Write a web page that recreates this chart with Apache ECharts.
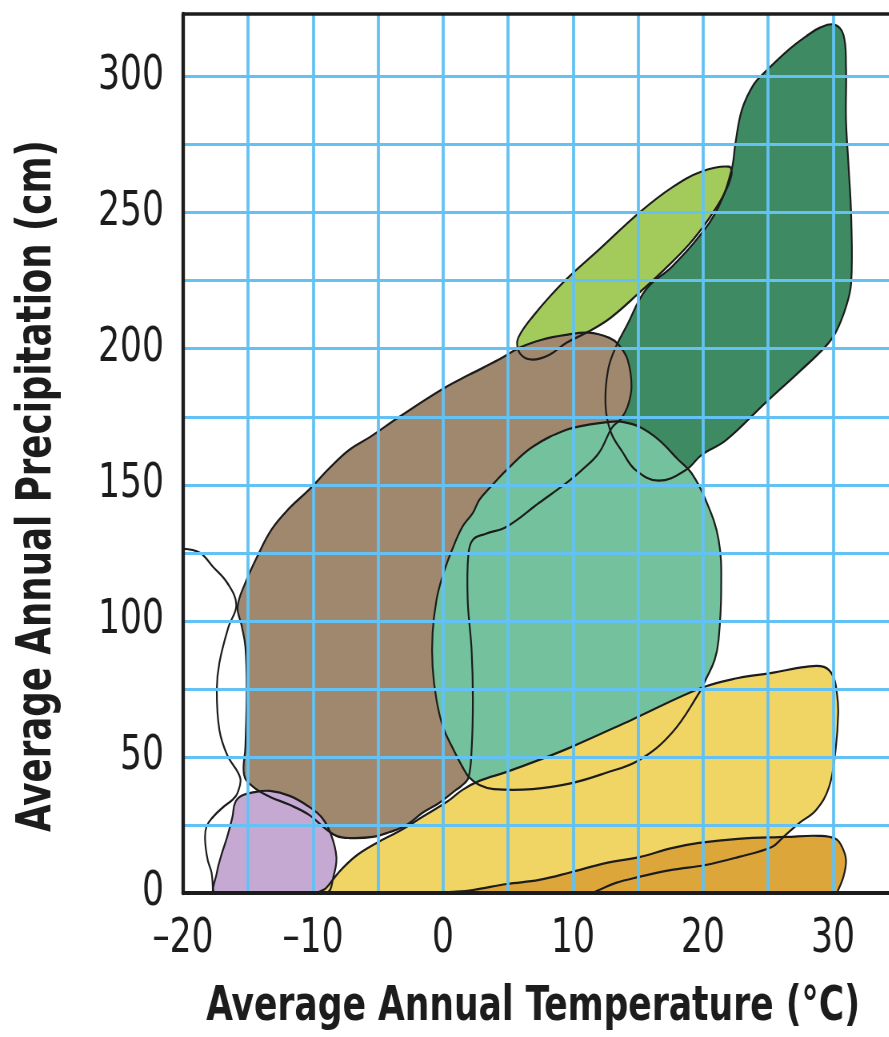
<!DOCTYPE html>
<html><head><meta charset="utf-8">
<script src="https://cdn.jsdelivr.net/npm/echarts@6/dist/echarts.min.js"></script>
<style>
html,body{margin:0;padding:0;background:#fff;overflow:hidden;width:889px;height:1037px}
#chart{width:1112px;height:1037px;transform:scaleX(0.8);transform-origin:0 0}
</style>
</head><body><div id="chart"></div>
<script>
// ---- tick labels ----
const xTickLabels = [-20, -10, 0, 10, 20, 30];
const yTickLabels = [0, 50, 100, 150, 200, 250, 300];
const xTitle = 'Average Annual Temperature (°C)';
const yTitle = 'Average Annual Precipitation (cm)';

// ---- biome outlines: [temperature °C, precipitation cm] ----
const tundraOutline = [[-20.0,126.5],[-18.7,125.0],[-17.7,119.9],[-16.6,114.0],[-15.9,105.9],[-16.5,97.8],[-17.2,84.6],[-17.4,74.6],[-17.2,59.9],[-16.6,50.7],[-15.6,42.3],[-15.8,36.8],[-16.2,34.2],[-16.9,31.6],[-17.7,27.9],[-18.2,24.3],[-18.3,19.5],[-18.1,12.1],[-17.8,7.4],[-17.7,0]];
const purpleBiome = [[-17.5,0],[-17.4,7.4],[-17.0,14.7],[-16.6,20.6],[-16.2,27.9],[-16.0,33.1],[-15.5,35.7],[-14.5,37.1],[-13.3,37.5],[-11.8,35.7],[-10.4,32.0],[-9.3,27.6],[-8.6,21.3],[-8.2,13.2],[-8.4,6.6],[-9.0,0]];
const brownBiome = [[4.3,196.0],[5.9,200.4],[7.6,203.3],[9.5,205.1],[11.2,205.9],[12.8,204.0],[13.5,201.5],[14.2,196.0],[14.5,186.0],[14.2,178.7],[13.7,174.3],[13.0,171.0],[12.0,161.8],[10.7,155.5],[9.5,150.7],[7.4,143.4],[4.9,134.6],[3.3,132.0],[2.3,129.8],[1.95,124.3],[1.9,107.7],[2.2,89.3],[2.3,71.0],[2.2,52.6],[1.95,42.3],[1.4,39.3],[1.0,37.9],[-0.3,33.1],[-1.6,29.4],[-2.8,25.0],[-4.1,22.4],[-5.4,20.6],[-7.2,20.2],[-8.2,21.0],[-9.1,23.9],[-10.3,28.7],[-11.8,32.4],[-13.3,35.3],[-14.6,39.0],[-15.3,43.4],[-15.2,53.7],[-15.1,74.6],[-15.2,90.4],[-15.5,98.5],[-15.8,105.1],[-15.2,114.0],[-14.3,123.5],[-13.2,133.5],[-11.8,141.5],[-10.3,148.2],[-8.7,156.3],[-7.2,162.9],[-5.6,167.6],[-3.35,175.0],[0.0,185.3],[2.0,190.4]];
const lightGreenBiome = [[5.7,202.2],[6.0,205.9],[6.9,211.8],[8.2,219.1],[9.7,226.5],[12.0,236.4],[15.1,250.0],[17.6,259.2],[19.9,265.1],[22.0,266.9],[22.2,264.0],[21.6,256.6],[20.4,247.4],[18.9,238.2],[17.0,229.0],[15.1,220.6],[12.9,211.4],[11.2,206.3],[9.5,202.2],[8.2,197.8],[6.9,196.0],[6.0,197.8]];
const darkGreenBiome = [[30.1,319.1],[30.8,315.4],[31.0,303.7],[31.0,284.2],[31.2,266.9],[31.4,248.5],[31.4,224.3],[31.0,215.4],[30.2,205.9],[29.4,200.7],[27.4,191.5],[24.8,180.1],[21.8,166.5],[19.9,161.0],[18.7,155.5],[16.6,151.5],[14.8,155.5],[13.8,162.1],[12.9,169.5],[12.5,179.4],[12.7,192.3],[13.3,200.7],[14.1,208.1],[15.6,221.7],[17.6,230.1],[19.7,241.2],[21.2,252.2],[22.2,265.8],[22.5,275.7],[23.0,287.9],[23.9,297.1],[24.8,301.8],[26.6,309.9],[27.9,314.7],[29.0,318.0]];
const mintBiome = [[13.0,173.2],[11.2,172.1],[9.5,170.2],[6.9,164.0],[4.9,155.5],[3.6,148.9],[2.8,144.5],[2.3,139.7],[1.5,134.6],[0.7,126.1],[-0.05,116.2],[-0.5,107.7],[-0.8,95.6],[-0.8,83.1],[-0.5,71.0],[0.0,61.0],[0.7,53.7],[1.5,46.3],[2.0,42.6],[2.8,39.7],[3.9,38.2],[6.9,38.2],[9.9,40.4],[12.5,44.1],[15.1,48.9],[17.6,58.8],[19.7,73.5],[20.2,78.3],[20.9,85.7],[21.2,93.0],[21.4,111.4],[21.2,129.8],[20.2,144.5],[19.1,154.4],[18.1,159.2],[16.6,166.5],[15.1,171.3],[13.7,173.2]];
const yellowBiome = [[-9.6,0],[-9.0,1.8],[-8.0,7.7],[-6.7,13.6],[-5.1,18.4],[-3.35,22.8],[-1.6,27.9],[0.3,33.5],[1.5,37.9],[2.8,41.2],[4.9,44.5],[7.4,48.9],[9.9,53.7],[14.5,63.6],[19.9,75.4],[22.7,79.0],[25.3,80.9],[27.9,83.1],[29.3,83.1],[30.0,79.8],[30.3,73.5],[30.4,66.2],[30.2,52.6],[29.7,39.0],[28.7,30.5],[27.4,25.7],[26.1,20.2],[25.3,16.9],[22.7,13.2],[20.2,10.3],[17.6,8.5],[15.1,5.9],[13.3,3.7],[12.0,1.1],[11.4,0]];
const orangeBiome = [[-1.0,0],[0.7,0.4],[2.3,1.1],[4.9,3.3],[7.4,4.8],[9.9,7.7],[12.5,11.0],[15.1,13.2],[17.6,16.5],[19.7,18.4],[22.7,19.9],[26.4,20.6],[28.9,21.0],[30.2,19.9],[30.7,16.9],[31.0,12.1],[30.8,5.9],[30.4,1.1],[30.3,0]];

// ---- styling (separate from data) ----
const fillLayers = [
  { pts: darkGreenBiome, color: '#3E8B63' },
  { pts: lightGreenBiome, color: '#A3CB5C' },
  { pts: brownBiome, color: '#A0886F' },
  { pts: purpleBiome, color: '#C6A9D2' },
  { pts: mintBiome, color: '#74C29D' },
  { pts: yellowBiome, color: '#F0D565' },
  { pts: orangeBiome, color: '#DDA63A' }
];
const outlineLayers = fillLayers.map(f => ({ pts: f.pts, closed: true }))
  .concat([{ pts: tundraOutline, closed: false }]);

// The page is condensed horizontally by CSS (scaleX 0.8), like the condensed type of the original.
const SX = 0.8;
const FONT = '"DejaVu Sans Condensed", "DejaVu Sans", sans-serif';
const INK = '#1c1c1c';
const GRIDBLUE = '#63C2F3';
const SMOOTH = 0.4;

const chart = echarts.init(document.getElementById('chart'));

function fillRender(params, api) {
  const L = fillLayers[params.dataIndex];
  return { type: 'polygon', silent: true,
    shape: { points: L.pts.map(p => api.coord(p)), smooth: SMOOTH },
    style: { fill: L.color, stroke: null, lineWidth: 0 } };
}
function lineRender(params, api) {
  const L = outlineLayers[params.dataIndex];
  return { type: L.closed ? 'polygon' : 'polyline', silent: true,
    shape: { points: L.pts.map(p => api.coord(p)), smooth: SMOOTH },
    style: { fill: 'none', stroke: INK, lineWidth: 2.2 } };
}

const lineOnly = (pos, z, w) => ({
  type: 'value', position: pos, z: z,
  axisLine: { show: true, onZero: false, lineStyle: { color: INK, width: w } },
  axisTick: { show: false }, axisLabel: { show: false }, splitLine: { show: false }
});

chart.setOption({
  animation: false,
  grid: { left: 183 / SX, top: 14, right: -10.5, bottom: 144, containLabel: false, outerBoundsMode: 'none' },
  xAxis: [
    { type: 'value', min: -20, max: 35, interval: 5, position: 'bottom', z: 10,
      axisLine: { show: false }, axisTick: { show: false },
      splitLine: { show: true, showMinLine: false, showMaxLine: false, lineStyle: { color: GRIDBLUE, width: 3 / SX } },
      axisLabel: { margin: 23, fontSize: 48, fontFamily: FONT, color: INK,
        formatter: v => xTickLabels.indexOf(v) >= 0 ? (v < 0 ? '\u2013' + Math.abs(v) : String(v)) : '' } },
    Object.assign(lineOnly('bottom', 12, 4), { min: -20, max: 35 }),
    Object.assign(lineOnly('top', 12, 3.5), { min: -20, max: 35 })
  ],
  yAxis: [
    { type: 'value', min: 0, max: 323, interval: 25, position: 'left', z: 10,
      axisLine: { show: false }, axisTick: { show: false },
      splitLine: { show: true, showMinLine: false, showMaxLine: false, lineStyle: { color: GRIDBLUE, width: 3 } },
      axisLabel: { margin: 19 / SX, fontSize: 48, fontFamily: FONT, color: INK,
        formatter: v => yTickLabels.indexOf(v) >= 0 ? String(v) : '' } },
    Object.assign(lineOnly('left', 12, 3.5 / SX), { min: 0, max: 323 })
  ],
  series: [
    { type: 'custom', coordinateSystem: 'cartesian2d', xAxisIndex: 0, yAxisIndex: 0, z: 2, clip: true, silent: true,
      renderItem: fillRender, data: fillLayers.map(l => l.pts[0]) },
    { type: 'custom', coordinateSystem: 'cartesian2d', xAxisIndex: 0, yAxisIndex: 0, z: 3, clip: true, silent: true,
      renderItem: lineRender, data: outlineLayers.map(l => l.pts[0]) }
  ],
  graphic: [
    { type: 'text', x: 533 / SX, y: 1008, z: 20, silent: true,
      style: { text: xTitle, font: 'bold 48px ' + FONT, fill: INK,
        align: 'center', verticalAlign: 'middle', textAlign: 'center', textVerticalAlign: 'middle' } },
    { type: 'text', x: 38 / SX, y: 486, rotation: Math.PI / 2, scaleX: 0.825, scaleY: 1 / SX, z: 20, silent: true,
      style: { text: yTitle, font: 'bold 48px ' + FONT, fill: INK,
        align: 'center', verticalAlign: 'middle', textAlign: 'center', textVerticalAlign: 'middle' } }
  ]
});
</script>
</body></html>
